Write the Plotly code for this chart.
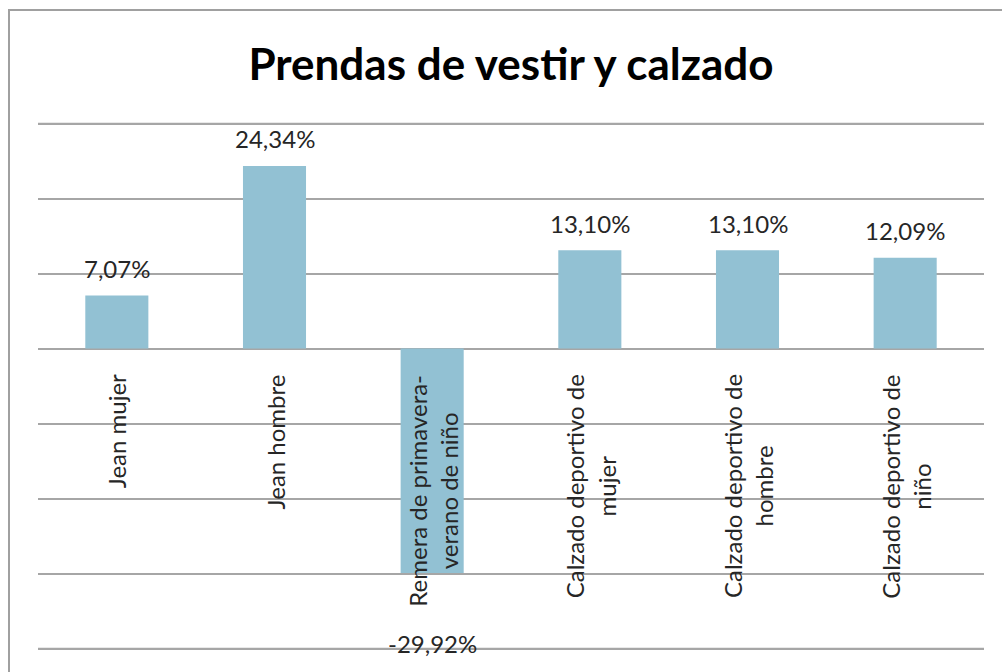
import plotly.graph_objects as go

categories = ["Jean mujer", "Jean hombre", "Remera de primavera-<br>verano de niño",
              "Calzado deportivo de<br>mujer", "Calzado deportivo de<br>hombre",
              "Calzado deportivo de<br>niño"]
values = [7.07, 24.34, -29.92, 13.10, 13.10, 12.09]
value_labels = ["7,07%", "24,34%", "-29,92%", "13,10%", "13,10%", "12,09%"]

W, H = 1002, 672
L, R, T, B = 38, 18, 122, 22
FONT = "Lato"
BAR = "#92C1D3"
GRID = "#A6A6A6"

fig = go.Figure(go.Bar(x=list(range(len(categories))), y=values,
                       marker=dict(color=BAR, line=dict(width=0)),
                       width=0.4, hoverinfo="skip"))

ann = []
for i, (c, v, t) in enumerate(zip(categories, values, value_labels)):
    ann.append(dict(x=i, y=v, xref="x", yref="y", text=t, showarrow=False,
                    yanchor="middle", yshift=27 if v >= 0 else -71,
                    font=dict(family=FONT, size=24, color="#262626")))
    ann.append(dict(x=i, y=0, xref="x", yref="y", text=c, showarrow=False,
                    textangle=-90, yanchor="top", xanchor="center", align="center",
                    yshift=-24, font=dict(family=FONT, size=24, color="#262626")))

pw = W - L - R
ph = H - T - B
shapes = [dict(type="rect", xref="paper", yref="paper",
               x0=(9 - L) / pw, x1=(W + 60 - L) / pw,
               y0=-(H + 60 - (H - B)) / ph, y1=1 + (T - 10) / ph,
               line=dict(color="#A0A0A0", width=2), layer="below")]

fig.update_layout(
    width=W, height=H,
    margin=dict(l=L, r=R, t=T, b=B),
    paper_bgcolor="white", plot_bgcolor="white",
    showlegend=False,
    title=dict(text="<b>Prendas de vestir y calzado</b>", x=0.5, xref="paper",
               y=1 - 65 / H, yref="container", xanchor="center", yanchor="middle",
               font=dict(family=FONT, size=44, color="black")),
    xaxis=dict(range=[-0.5, len(categories) - 0.5], showticklabels=False,
               showgrid=False, zeroline=False, showline=False, ticks=""),
    yaxis=dict(range=[-40.2, 30.2], dtick=10, tick0=0, showticklabels=False,
               showgrid=True, gridcolor=GRID, gridwidth=1.5,
               zeroline=True, zerolinecolor=GRID, zerolinewidth=1.5,
               showline=False, ticks=""),
    annotations=ann, shapes=shapes,
)

# gridlines at the range ends (Plotly hides grid lines at the plot edge)
for yv in (30, -40):
    fig.add_hline(y=yv, line=dict(color=GRID, width=1.5), layer="below")

fig.write_html("out.html", config={"displayModeBar": False},
               post_script="document.body.style.margin='0';document.body.style.overflow='hidden';")
